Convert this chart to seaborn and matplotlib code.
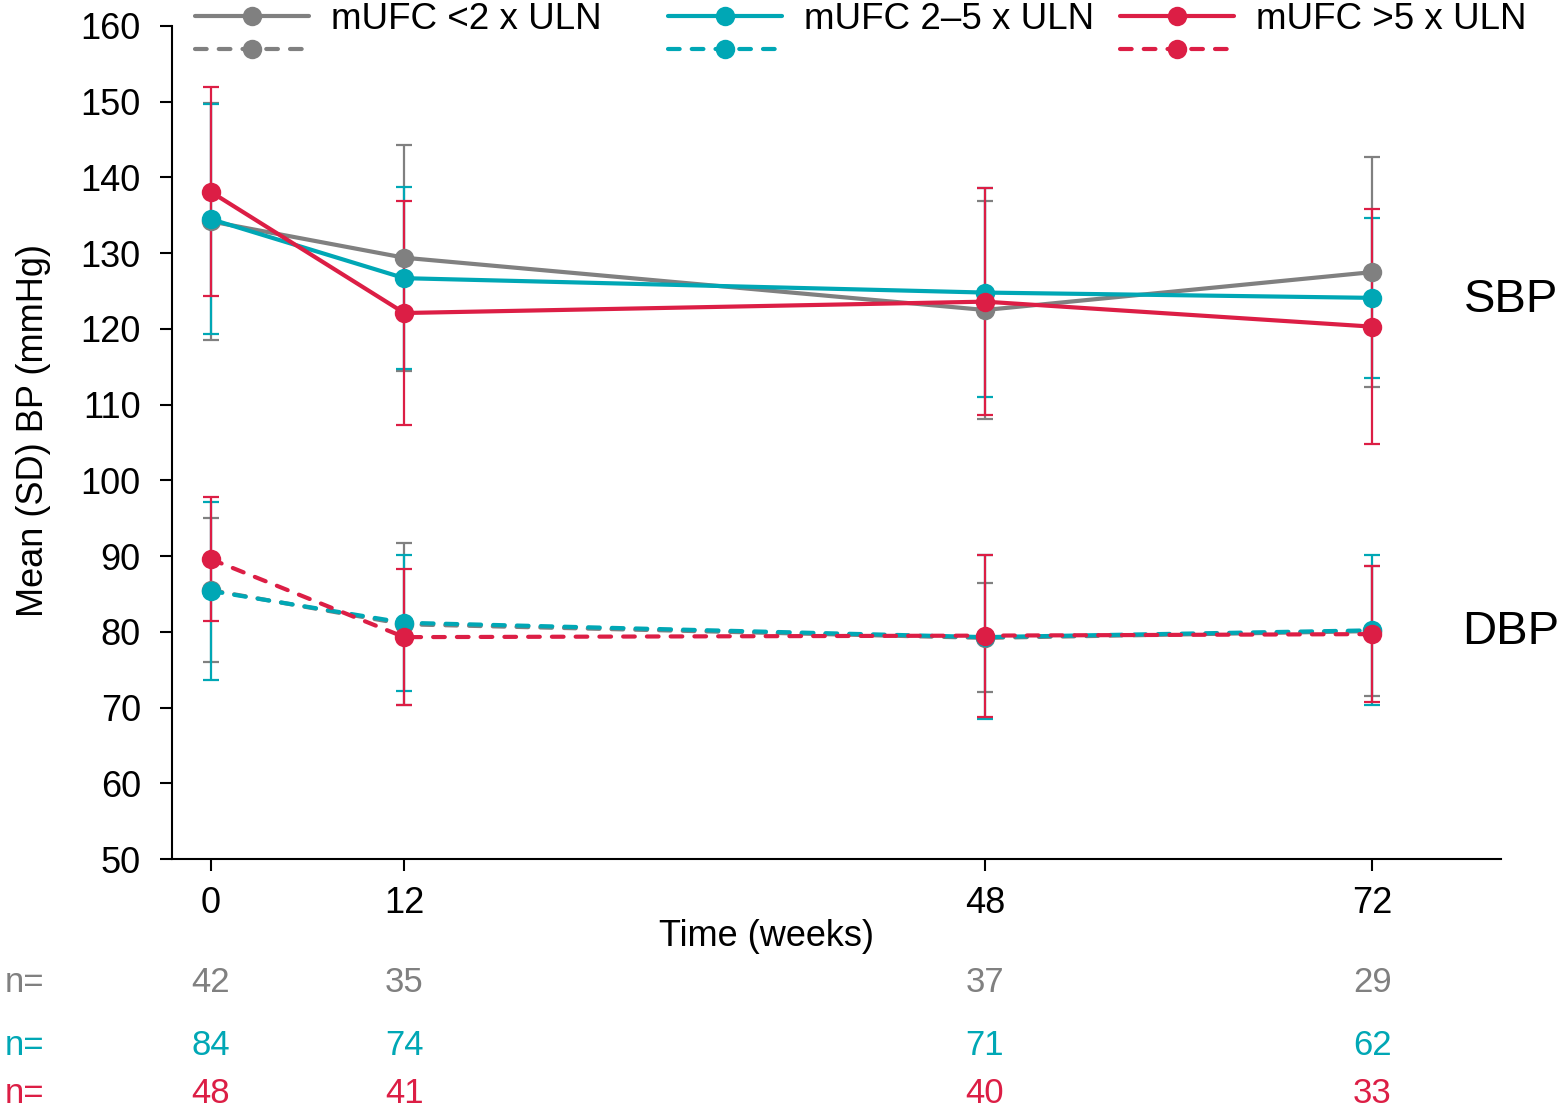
import pandas as pd
import matplotlib
matplotlib.use('Agg')
import matplotlib.pyplot as plt
import seaborn as sns
from matplotlib.lines import Line2D

# Данные
weeks = [0, 12, 48, 72]
groups = ['mUFC <2 x ULN', 'mUFC 2\u20135 x ULN', 'mUFC >5 x ULN']
colors = ['#808080', '#00a7b5', '#dc1e45']

sbp_mean = [[134.2, 129.4, 122.5, 127.5],
            [134.5, 126.7, 124.8, 124.1],
            [138.1, 122.1, 123.6, 120.3]]
sbp_sd = [[15.6, 14.9, 14.4, 15.2],
          [15.2, 12.0, 13.8, 10.6],
          [13.8, 14.8, 15.0, 15.5]]
dbp_mean = [[85.5, 81.0, 79.2, 80.1],
            [85.4, 81.2, 79.3, 80.2],
            [89.6, 79.3, 79.5, 79.7]]
dbp_sd = [[9.5, 10.7, 7.2, 8.6],
          [11.8, 9.0, 10.8, 9.9],
          [8.2, 9.0, 10.7, 9.0]]
n_counts = [[42, 35, 37, 29],
            [84, 74, 71, 62],
            [48, 41, 40, 33]]

rows = []
for g, grp in enumerate(groups):
    for i, w in enumerate(weeks):
        rows.append({'group': grp, 'bp': 'SBP', 'week': w, 'mean': sbp_mean[g][i], 'sd': sbp_sd[g][i]})
        rows.append({'group': grp, 'bp': 'DBP', 'week': w, 'mean': dbp_mean[g][i], 'sd': dbp_sd[g][i]})
df = pd.DataFrame(rows)

sns.set_style('ticks')
plt.rcParams['font.family'] = ['Liberation Sans', 'DejaVu Sans']
for k in ['text.color', 'axes.labelcolor', 'xtick.color', 'ytick.color']:
    plt.rcParams[k] = 'black'

fig = plt.figure(figsize=(15.67, 11.11), dpi=100)
ax = fig.add_axes([0.1098, 0.2268, 0.8482, 0.7498])

lw = 3.0
ms = 14
dash = (2.8, 2.9)

# Планки погрешностей (под линиями)
for g, grp in enumerate(groups):
    for bp in ['SBP', 'DBP']:
        sub = df[(df['group'] == grp) & (df['bp'] == bp)]
        ax.errorbar(sub['week'], sub['mean'], yerr=sub['sd'], fmt='none',
                    ecolor=colors[g], elinewidth=1.6, capsize=6, capthick=1.6, zorder=2)

# Линии средних
for g, grp in enumerate(groups):
    for bp in ['SBP', 'DBP']:
        sub = df[(df['group'] == grp) & (df['bp'] == bp)]
        sns.lineplot(data=sub, x='week', y='mean', ax=ax, color=colors[g],
                     marker='o', markersize=ms, markeredgewidth=0, linewidth=lw,
                     legend=False, zorder=3)
        line = ax.lines[-1]
        if bp == 'DBP':
            line.set_dashes(dash)
            line.set_dash_capstyle('round')

ax.set_xlim(-2.4, 80)
ax.set_ylim(50, 160)
ax.set_xticks(weeks)
ax.set_yticks(range(50, 161, 10))
sns.despine(ax=ax)
for sp in ['left', 'bottom']:
    ax.spines[sp].set_linewidth(1.5)
    ax.spines[sp].set_color('black')
ax.tick_params(axis='both', labelsize=26, length=8.5, width=1.5, color='black')
ax.tick_params(axis='y', pad=14)
ax.tick_params(axis='x', pad=11)

ax.set_xlabel('Time (weeks)', fontsize=26)
ax.set_ylabel('Mean (SD) BP (mmHg)', fontsize=26)
ax.xaxis.set_label_coords(0.447, -0.072, transform=ax.transAxes)
ax.yaxis.set_label_coords(-0.091, 0.515, transform=ax.transAxes)

ax.text(80.6, 123.8, 'SBP', fontsize=34, ha='center', va='center', clip_on=False)
ax.text(80.6, 80.0, 'DBP', fontsize=34, ha='center', va='center', clip_on=False)

# Легенда: сплошная и пунктирная линии для каждой группы
leg_x = [0.1244, 0.4263, 0.7147]
for g, grp in enumerate(groups):
    h_solid = Line2D([], [], color=colors[g], lw=lw, marker='o', markersize=ms, markeredgewidth=0)
    h_dash = Line2D([], [], color=colors[g], lw=lw, marker='o', markersize=ms, markeredgewidth=0,
                    dashes=dash, dash_capstyle='round')
    fig.legend([h_solid, h_dash], [grp, ''], ncol=1, loc='upper left',
               bbox_to_anchor=(leg_x[g], 0.998), frameon=False, fontsize=26.5,
               handlelength=3.1, handletextpad=0.6, labelspacing=-0.05,
               borderpad=0, borderaxespad=0)

# Численность групп
n_y = [0.116, 0.059, 0.016]
trans = matplotlib.transforms.blended_transform_factory(ax.transData, fig.transFigure)
for g in range(len(groups)):
    fig.text(0.003, n_y[g], 'n=', color=colors[g], fontsize=25, ha='left', va='center')
    for i, w in enumerate(weeks):
        ax.text(w, n_y[g], str(n_counts[g][i]), color=colors[g], fontsize=25,
                ha='center', va='center', transform=trans, clip_on=False)

plt.savefig('out.png', dpi=100)
